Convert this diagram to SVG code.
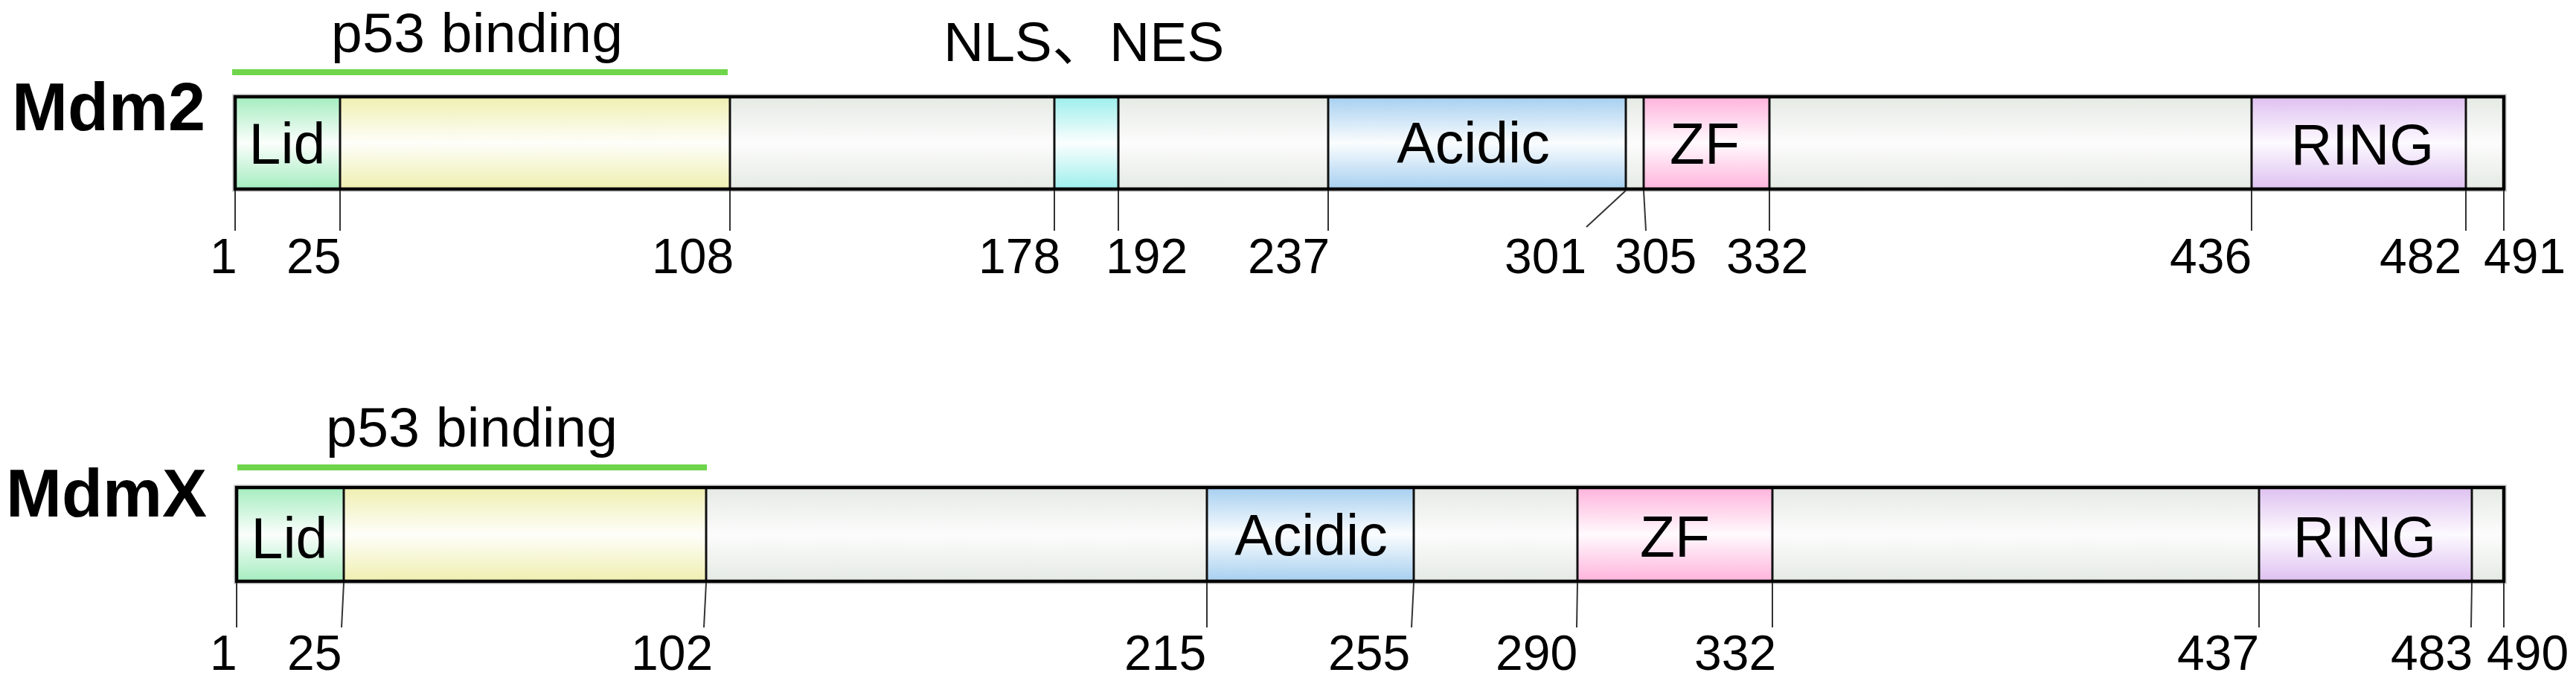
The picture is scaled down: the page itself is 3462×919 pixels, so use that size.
<svg xmlns="http://www.w3.org/2000/svg" width="3462" height="919" viewBox="0 0 3462 919">
<defs>
<linearGradient id="gGreen" x1="0" y1="0" x2="0" y2="1"><stop offset="0" stop-color="#a4edbf"/><stop offset="0.5" stop-color="#fbfefc"/><stop offset="1" stop-color="#a4edbf"/></linearGradient>
<linearGradient id="gYellow" x1="0" y1="0" x2="0" y2="1"><stop offset="0" stop-color="#efefb0"/><stop offset="0.5" stop-color="#fefefa"/><stop offset="1" stop-color="#efefb0"/></linearGradient>
<linearGradient id="gGray" x1="0" y1="0" x2="0" y2="1"><stop offset="0" stop-color="#e5eae4"/><stop offset="0.5" stop-color="#fcfcfc"/><stop offset="1" stop-color="#e5eae4"/></linearGradient>
<linearGradient id="gCyan" x1="0" y1="0" x2="0" y2="1"><stop offset="0" stop-color="#9cefec"/><stop offset="0.5" stop-color="#fbfefe"/><stop offset="1" stop-color="#9cefec"/></linearGradient>
<linearGradient id="gBlue" x1="0" y1="0" x2="0" y2="1"><stop offset="0" stop-color="#a6cff0"/><stop offset="0.5" stop-color="#fbfdfe"/><stop offset="1" stop-color="#a6cff0"/></linearGradient>
<linearGradient id="gPink" x1="0" y1="0" x2="0" y2="1"><stop offset="0" stop-color="#ffb3dc"/><stop offset="0.5" stop-color="#fffafd"/><stop offset="1" stop-color="#ffb3dc"/></linearGradient>
<linearGradient id="gPurple" x1="0" y1="0" x2="0" y2="1"><stop offset="0" stop-color="#dec0f0"/><stop offset="0.5" stop-color="#fdfaff"/><stop offset="1" stop-color="#dec0f0"/></linearGradient>
</defs>
<style>
.name{font-family:"Liberation Sans",Arial,sans-serif;font-weight:bold;font-size:90px;fill:#000}
.lbl{font-family:"Liberation Sans",Arial,"Noto Sans CJK SC",sans-serif;font-size:75px;fill:#000}
.dom{font-family:"Liberation Sans",Arial,sans-serif;font-size:77px;fill:#000;text-anchor:middle}
.num{font-family:"Liberation Sans",Arial,sans-serif;font-size:66px;fill:#000}
.sep{stroke:#111;stroke-width:3}
.halo{fill:none;stroke:#d8d8d8;stroke-width:8}
.border{fill:none;stroke:#000;stroke-width:4.5}
.tick{stroke:#333;stroke-width:2;fill:none}
.bind{stroke:#6fd54b;stroke-width:8}
</style>

<g id="mdm2">
  <text id="mdm2-name" class="name" x="16" y="175">Mdm2</text>
  <g id="mdm2-p53">
    <line class="bind" x1="312" y1="97" x2="978" y2="97"/>
    <text class="lbl" x="445" y="70" textLength="392">p53 binding</text>
  </g>
  <text id="mdm2-nls" class="lbl" x="1268" y="82">NLS、<tspan x="1491">NES</tspan></text>
  <g id="mdm2-bar">
    <rect class="halo" x="316" y="130" width="3049" height="124"/>
    <rect x="316" y="130" width="141" height="124" fill="url(#gGreen)"/>
    <rect x="457" y="130" width="524" height="124" fill="url(#gYellow)"/>
    <rect x="981" y="130" width="436" height="124" fill="url(#gGray)"/>
    <rect x="1417" y="130" width="86" height="124" fill="url(#gCyan)"/>
    <rect x="1503" y="130" width="282" height="124" fill="url(#gGray)"/>
    <rect x="1785" y="130" width="400" height="124" fill="url(#gBlue)"/>
    <rect x="2185" y="130" width="24" height="124" fill="url(#gGray)"/>
    <rect x="2209" y="130" width="169" height="124" fill="url(#gPink)"/>
    <rect x="2378" y="130" width="648" height="124" fill="url(#gGray)"/>
    <rect x="3026" y="130" width="288" height="124" fill="url(#gPurple)"/>
    <rect x="3314" y="130" width="51" height="124" fill="url(#gGray)"/>
    <g class="sep">
      <line x1="457" y1="130" x2="457" y2="254"/>
      <line x1="981" y1="130" x2="981" y2="254"/>
      <line x1="1417" y1="130" x2="1417" y2="254"/>
      <line x1="1503" y1="130" x2="1503" y2="254"/>
      <line x1="1785" y1="130" x2="1785" y2="254"/>
      <line x1="2185" y1="130" x2="2185" y2="254"/>
      <line x1="2209" y1="130" x2="2209" y2="254"/>
      <line x1="2378" y1="130" x2="2378" y2="254"/>
      <line x1="3026" y1="130" x2="3026" y2="254"/>
      <line x1="3314" y1="130" x2="3314" y2="254"/>
    </g>
    <rect class="border" x="316" y="130" width="3049" height="124"/>
    <text class="dom" x="386" y="220">Lid</text>
    <text class="dom" x="1980" y="219">Acidic</text>
    <text class="dom" x="2291" y="220">ZF</text>
    <text class="dom" x="3175" y="221">RING</text>
  </g>
  <g id="mdm2-numbers" class="num">
    <text x="282" y="367">1</text>
    <text x="385" y="367">25</text>
    <text x="876" y="367">108</text>
    <text x="1315" y="367">178</text>
    <text x="1486" y="367">192</text>
    <text x="1677" y="367">237</text>
    <text x="2022" y="367">301</text>
    <text x="2170" y="367">305</text>
    <text x="2320" y="367">332</text>
    <text x="2916" y="367">436</text>
    <text x="3198" y="367">482</text>
    <text x="3338" y="367">491</text>
  </g>
</g>

<g id="mdmx">
  <text id="mdmx-name" class="name" x="8" y="694">MdmX</text>
  <g id="mdmx-p53">
    <line class="bind" x1="319" y1="628" x2="950" y2="628"/>
    <text class="lbl" x="438" y="600" textLength="392">p53 binding</text>
  </g>
  <g id="mdmx-bar">
    <rect class="halo" x="318" y="655" width="3047" height="126"/>
    <rect x="318" y="655" width="144" height="126" fill="url(#gGreen)"/>
    <rect x="462" y="655" width="487" height="126" fill="url(#gYellow)"/>
    <rect x="949" y="655" width="673" height="126" fill="url(#gGray)"/>
    <rect x="1622" y="655" width="278" height="126" fill="url(#gBlue)"/>
    <rect x="1900" y="655" width="220" height="126" fill="url(#gGray)"/>
    <rect x="2120" y="655" width="262" height="126" fill="url(#gPink)"/>
    <rect x="2382" y="655" width="654" height="126" fill="url(#gGray)"/>
    <rect x="3036" y="655" width="286" height="126" fill="url(#gPurple)"/>
    <rect x="3322" y="655" width="43" height="126" fill="url(#gGray)"/>
    <g class="sep">
      <line x1="462" y1="655" x2="462" y2="781"/>
      <line x1="949" y1="655" x2="949" y2="781"/>
      <line x1="1622" y1="655" x2="1622" y2="781"/>
      <line x1="1900" y1="655" x2="1900" y2="781"/>
      <line x1="2120" y1="655" x2="2120" y2="781"/>
      <line x1="2382" y1="655" x2="2382" y2="781"/>
      <line x1="3036" y1="655" x2="3036" y2="781"/>
      <line x1="3322" y1="655" x2="3322" y2="781"/>
    </g>
    <rect class="border" x="318" y="655" width="3047" height="126"/>
    <text class="dom" x="389" y="750">Lid</text>
    <text class="dom" x="1762" y="746">Acidic</text>
    <text class="dom" x="2251" y="748">ZF</text>
    <text class="dom" x="3178" y="748">RING</text>
  </g>
  <g id="mdmx-numbers" class="num">
    <text x="282" y="900">1</text>
    <text x="386" y="900">25</text>
    <text x="848" y="900">102</text>
    <text x="1511" y="900">215</text>
    <text x="1785" y="900">255</text>
    <text x="2010" y="900">290</text>
    <text x="2277" y="900">332</text>
    <text x="2926" y="900">437</text>
    <text x="3213" y="900">483</text>
    <text x="3342" y="900">490</text>
  </g>
</g>

<g id="connectors" class="tick">
  <line x1="316" y1="256" x2="316" y2="310"/>
  <line x1="457" y1="256" x2="457" y2="310"/>
  <line x1="981" y1="256" x2="981" y2="310"/>
  <line x1="1417" y1="256" x2="1417" y2="310"/>
  <line x1="1503" y1="256" x2="1503" y2="310"/>
  <line x1="1785" y1="256" x2="1785" y2="310"/>
  <line x1="2185" y1="256" x2="2132" y2="305"/>
  <line x1="2209" y1="256" x2="2212" y2="310"/>
  <line x1="2378" y1="256" x2="2378" y2="310"/>
  <line x1="3026" y1="256" x2="3026" y2="310"/>
  <line x1="3314" y1="256" x2="3314" y2="310"/>
  <line x1="3365" y1="256" x2="3365" y2="310"/>
  <line x1="318" y1="783" x2="318" y2="843"/>
  <line x1="462" y1="783" x2="459" y2="843"/>
  <line x1="949" y1="783" x2="946" y2="843"/>
  <line x1="1622" y1="783" x2="1622" y2="843"/>
  <line x1="1900" y1="783" x2="1897" y2="843"/>
  <line x1="2120" y1="783" x2="2119" y2="843"/>
  <line x1="2382" y1="783" x2="2382" y2="843"/>
  <line x1="3036" y1="783" x2="3036" y2="843"/>
  <line x1="3322" y1="783" x2="3321" y2="843"/>
  <line x1="3365" y1="783" x2="3365" y2="843"/>
</g>
</svg>
